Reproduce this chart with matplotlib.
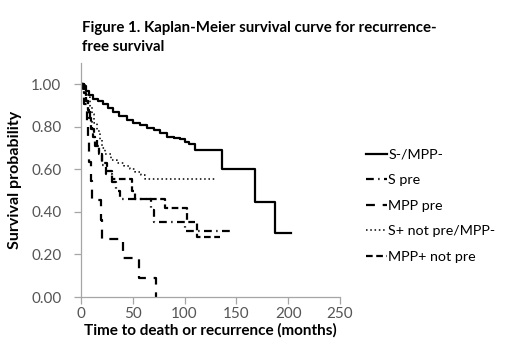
import matplotlib
matplotlib.use("Agg")
import matplotlib.pyplot as plt
from matplotlib.ticker import FormatStrFormatter

plt.rcParams['font.family'] = ['Lato', 'DejaVu Sans']

# Kaplan-Meier step data (months, survival)
t_neg = [0, 2, 5, 8, 12, 16, 21, 26, 31, 37, 44, 50, 57, 64, 70, 76, 83, 90, 96, 100, 104, 110, 136, 168, 187, 203]
s_neg = [1.0, 0.99, 0.97, 0.95, 0.933, 0.92, 0.909, 0.89, 0.87, 0.85, 0.831, 0.82, 0.807, 0.795, 0.784, 0.77, 0.753,
         0.748, 0.745, 0.73, 0.72, 0.69, 0.60, 0.447, 0.30, 0.30]

t_spre = [0, 2, 5, 7, 9, 11, 13, 15, 17, 20, 24, 30, 34, 38, 68, 70, 100, 147]
s_spre = [1.0, 0.96, 0.92, 0.88, 0.83, 0.79, 0.75, 0.71, 0.67, 0.62, 0.58, 0.54, 0.50, 0.46, 0.41, 0.354, 0.31, 0.31]

t_mpre = [0, 3, 6, 7, 8, 10, 11, 19, 20, 41, 56, 72]
s_mpre = [1.0, 0.909, 0.818, 0.727, 0.636, 0.545, 0.455, 0.364, 0.273, 0.182, 0.091, 0.0]

t_splus = [0, 4, 7, 9, 11, 13, 15, 18, 20, 23, 29, 35, 42, 47, 52, 58, 62, 129]
s_splus = [1.0, 0.97, 0.94, 0.90, 0.86, 0.82, 0.78, 0.74, 0.70, 0.67, 0.643, 0.628, 0.615, 0.60, 0.588, 0.573, 0.553,
           0.553]

t_mplus = [0, 3, 5, 7, 8, 10, 12, 14, 17, 20, 25, 30, 49, 52, 81, 102, 112, 134]
s_mplus = [1.0, 0.96, 0.92, 0.88, 0.84, 0.79, 0.75, 0.71, 0.67, 0.63, 0.59, 0.553, 0.50, 0.463, 0.42, 0.354, 0.283,
           0.283]

labels = ['S-/MPP-', 'S pre', 'MPP pre', 'S+ not pre/MPP-', 'MPP+ not pre']

fig = plt.figure(figsize=(5.06, 3.53), dpi=100)
ax = fig.add_axes([0.160, 0.1586, 0.512, 0.663])

ax.step(t_neg, s_neg, where='post', color='black', lw=1.6, label=labels[0])
ax.step(t_spre, s_spre, where='post', color='black', lw=1.6, dashes=(3.5, 2, 0.6, 2), label=labels[1])
ax.step(t_mpre, s_mpre, where='post', color='black', lw=1.6, dashes=(4, 3.5), label=labels[2])
ax.step(t_splus, s_splus, where='post', color='black', lw=1.1, dashes=(1, 1.8), label=labels[3])
ax.step(t_mplus, s_mplus, where='post', color='black', lw=1.6, dashes=(3, 1.6), label=labels[4])

ax.set_xlim(0, 250)
ax.set_ylim(0, 1.1)
ax.set_xticks([0, 50, 100, 150, 200, 250])
ax.set_yticks([0, 0.2, 0.4, 0.6, 0.8, 1.0])
ax.yaxis.set_major_formatter(FormatStrFormatter('%.2f'))

for side in ['top', 'right']:
    ax.spines[side].set_visible(False)
for side in ['left', 'bottom']:
    ax.spines[side].set_color('#a6a6a6')
    ax.spines[side].set_linewidth(0.9)
ax.tick_params(direction='out', length=5, width=0.9, color='#a6a6a6', labelsize=11, labelcolor='#555555')
ax.tick_params(axis='y', pad=9)
ax.tick_params(axis='x', pad=2)

ax.set_xlabel('Time to death or recurrence (months)', fontsize=11, fontweight='bold', labelpad=2)
ax.set_ylabel('Survival probability', fontsize=11.5, fontweight='bold', labelpad=7)

fig.text(0.162, 0.940, 'Figure 1. Kaplan-Meier survival curve for recurrence-\nfree survival',
         fontsize=10.8, fontweight='bold', ha='left', va='top', linespacing=1.4)

ax.legend(loc='center left', bbox_to_anchor=(1.10, 0.39), frameon=False, fontsize=10.3,
          handlelength=1.45, handletextpad=0.1, labelspacing=0.95, borderaxespad=0, borderpad=0)

fig.savefig('out.png', dpi=100)
